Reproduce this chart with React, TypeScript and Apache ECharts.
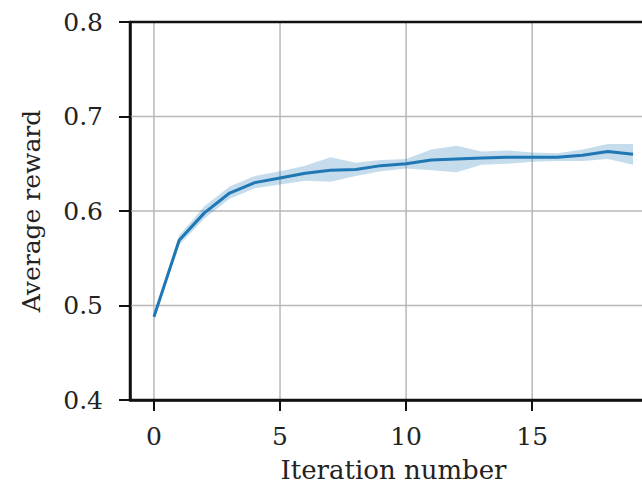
import React, { useEffect, useRef } from "react";
import * as echarts from "echarts";

const iterations = [0, 1, 2, 3, 4, 5, 6, 7, 8, 9, 10, 11, 12, 13, 14, 15, 16, 17, 18, 19];
const meanReward = [0.488, 0.569, 0.598, 0.619, 0.630, 0.635, 0.640, 0.643, 0.644, 0.648, 0.650, 0.654, 0.655, 0.656, 0.657, 0.657, 0.657, 0.659, 0.663, 0.660];
const lowerReward = [0.485, 0.564, 0.592, 0.613, 0.624, 0.628, 0.632, 0.631, 0.637, 0.642, 0.645, 0.643, 0.641, 0.649, 0.650, 0.652, 0.653, 0.653, 0.655, 0.649];
const upperReward = [0.491, 0.574, 0.605, 0.626, 0.637, 0.642, 0.648, 0.657, 0.651, 0.654, 0.655, 0.665, 0.669, 0.663, 0.664, 0.662, 0.661, 0.665, 0.671, 0.671];
const xTicks = [0, 5, 10, 15];
const yGridValues = [0.5, 0.6, 0.7];
const xMin = -0.95;
const xMax = 19.95;
const yMin = 0.4;
const yMax = 0.8;

export default function App() {
  const ref = useRef<HTMLDivElement>(null);
  useEffect(() => {
    if (!ref.current) return;
    const chart = echarts.init(ref.current, undefined, { renderer: "svg" });
    const font = "DejaVu Serif";
    const bandData = iterations.map((x, i) => [x, lowerReward[i], upperReward[i]]);
    const gridStyle = { stroke: "#b8b8b8", lineWidth: 1.5 };
    chart.setOption({
      animation: false,
      backgroundColor: "#ffffff",
      grid: {
        left: 130,
        top: 22,
        right: 23,
        bottom: 88,
        show: true,
        borderColor: "#111",
        borderWidth: 2.5,
        backgroundColor: "transparent",
        z: 10,
      },
      xAxis: {
        type: "value",
        min: xMin,
        max: xMax,
        name: "Iteration number",
        nameLocation: "middle",
        nameGap: 57,
        nameTextStyle: { fontFamily: font, fontSize: 26, color: "#222" },
        axisLine: { show: true, onZero: false, lineStyle: { color: "#111", width: 2.5 } },
        axisTick: { show: true, customValues: xTicks, length: 11, lineStyle: { color: "#111", width: 2 } },
        axisLabel: { customValues: xTicks, margin: 24, fontFamily: font, fontSize: 25, color: "#222" },
        splitLine: { show: false },
      },
      yAxis: {
        type: "value",
        min: yMin,
        max: yMax,
        interval: 0.1,
        name: "Average reward",
        nameLocation: "middle",
        nameGap: 86,
        nameTextStyle: { fontFamily: font, fontSize: 25, color: "#222" },
        axisLine: { show: true, onZero: false, lineStyle: { color: "#111", width: 2.5 } },
        axisTick: { show: true, length: 11, lineStyle: { color: "#111", width: 2 } },
        axisLabel: { margin: 27, fontFamily: font, fontSize: 25, color: "#222", formatter: (v: number) => v.toFixed(1) },
        splitLine: { show: false },
      },
      series: [
        {
          type: "custom",
          silent: true,
          z: 1,
          data: xTicks.map((t) => [t]),
          encode: { x: 0 },
          renderItem: (params: any, api: any) => {
            const t = api.value(0);
            const p1 = api.coord([t, yMin]);
            const p2 = api.coord([t, yMax]);
            return { type: "line", shape: { x1: p1[0], y1: p1[1], x2: p2[0], y2: p2[1] }, style: gridStyle };
          },
        },
        {
          type: "custom",
          silent: true,
          z: 1,
          data: yGridValues.map((v) => [0, v]),
          encode: { x: 0, y: 1 },
          renderItem: (params: any, api: any) => {
            const v = api.value(1);
            const p1 = api.coord([xMin, v]);
            const p2 = api.coord([xMax, v]);
            return { type: "line", shape: { x1: p1[0], y1: p1[1], x2: p2[0], y2: p2[1] }, style: gridStyle };
          },
        },
        {
          type: "custom",
          silent: true,
          z: 2,
          data: bandData,
          encode: { x: 0, y: [1, 2] },
          renderItem: (params: any, api: any) => {
            if (params.dataIndex !== 0) return null;
            const top = bandData.map((d) => api.coord([d[0], d[2]]));
            const bottom = bandData.map((d) => api.coord([d[0], d[1]])).reverse();
            return {
              type: "polygon",
              shape: { points: top.concat(bottom) },
              style: { fill: "rgba(31,119,180,0.26)", stroke: "none" },
            };
          },
        },
        {
          type: "line",
          data: iterations.map((x, i) => [x, meanReward[i]]),
          symbol: "none",
          lineStyle: { color: "#1f77b4", width: 3 },
          z: 3,
        },
      ],
    });
    return () => chart.dispose();
  }, []);
  return (
    <div style={{ position: "fixed", left: 0, top: 0, width: 642, height: 488, overflow: "hidden", background: "#fff" }}>
      <div ref={ref} style={{ width: 680, height: 488 }} />
    </div>
  );
}
